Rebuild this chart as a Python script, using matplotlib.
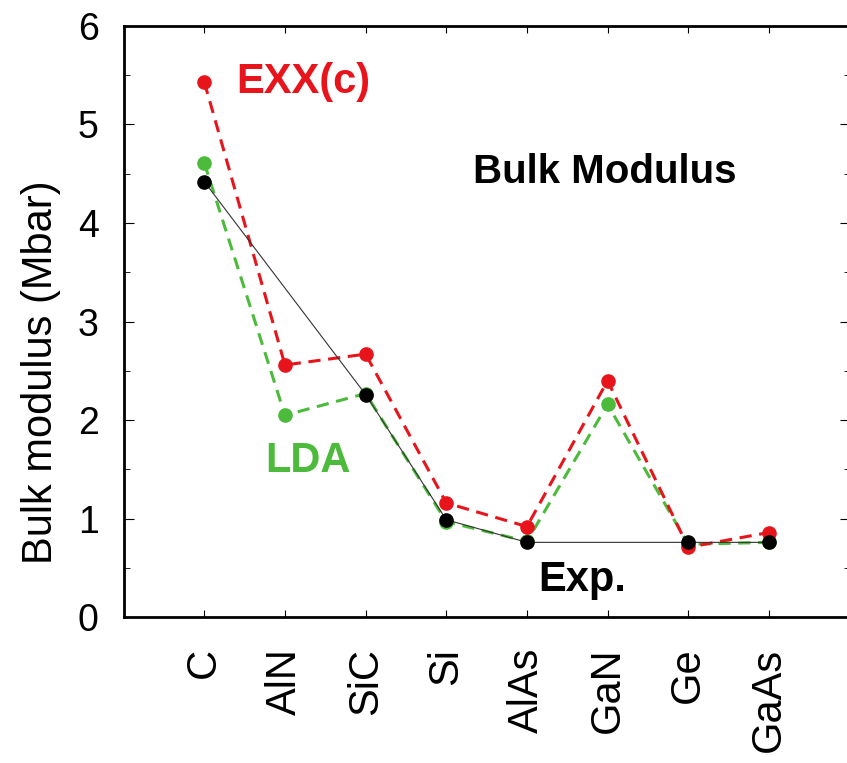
import numpy as np
import matplotlib
matplotlib.use("Agg")
import matplotlib.pyplot as plt
from matplotlib.ticker import MultipleLocator

plt.rcParams['font.family'] = ['Liberation Sans', 'DejaVu Sans']

materials = ["C", "AlN", "SiC", "Si", "AlAs", "GaN", "Ge", "GaAs"]
exx_c = [5.43, 2.56, 2.67, 1.16, 0.92, 2.40, 0.71, 0.86]
lda = [4.61, 2.05, 2.27, 0.97, 0.77, 2.16, 0.74, 0.76]
# no experimental value for AlN and GaN
exp_vals = [4.42, np.nan, 2.26, 0.99, 0.76, np.nan, 0.76, 0.76]

red = "#e8141c"
green = "#4cbb3c"

fig = plt.figure(figsize=(8.47, 7.63), dpi=100)
# right spine sits just past the image edge, as in the reference crop
ax = fig.add_axes([0.146, 0.191, 0.857, 0.775])

x = np.arange(1, len(materials) + 1)
exp_arr = np.array(exp_vals)
ok = ~np.isnan(exp_arr)

ax.plot(x, lda, color=green, lw=2.2, ls=(0, (4, 2.5)), marker="o", ms=9.5, zorder=2)
ax.plot(x, exx_c, color=red, lw=2.2, ls=(0, (4, 2.5)), marker="o", ms=9.5, zorder=3)
ax.plot(x[ok], exp_arr[ok], color="#333333", lw=0.8, zorder=4)
ax.plot(x[ok], exp_arr[ok], ls="none", color="black", marker="o", ms=9.5, zorder=5)

ax.text(1.4, 5.43, "EXX(c)", color=red, fontsize=30, fontweight="bold", va="center", ha="left")
ax.text(1.75, 1.59, "LDA", color=green, fontsize=30, fontweight="bold", va="center", ha="left")
ax.text(5.97, 4.52, "Bulk Modulus", color="black", fontsize=29, fontweight="bold", va="center", ha="center")
ax.text(5.69, 0.38, "Exp.", color="black", fontsize=30, fontweight="bold", va="center", ha="center")

ax.set_xlim(0, 9)
ax.set_ylim(0, 6)
ax.set_xticks(x)
ax.set_xticklabels(materials, rotation=90, fontsize=30)
ax.yaxis.set_major_locator(MultipleLocator(1))
ax.yaxis.set_minor_locator(MultipleLocator(0.5))
ax.tick_params(axis="both", which="both", direction="in", top=True, right=True)
ax.tick_params(axis="x", which="major", length=5, pad=22)
ax.tick_params(axis="y", which="major", length=7, labelsize=27, pad=18)
ax.tick_params(axis="y", which="minor", length=4)
ax.set_ylabel("Bulk modulus (Mbar)", fontsize=30)
ax.yaxis.set_label_coords(-0.086, 0.415)
for s in ax.spines.values():
    s.set_linewidth(2.0)

fig.savefig("out.png", dpi=100)
